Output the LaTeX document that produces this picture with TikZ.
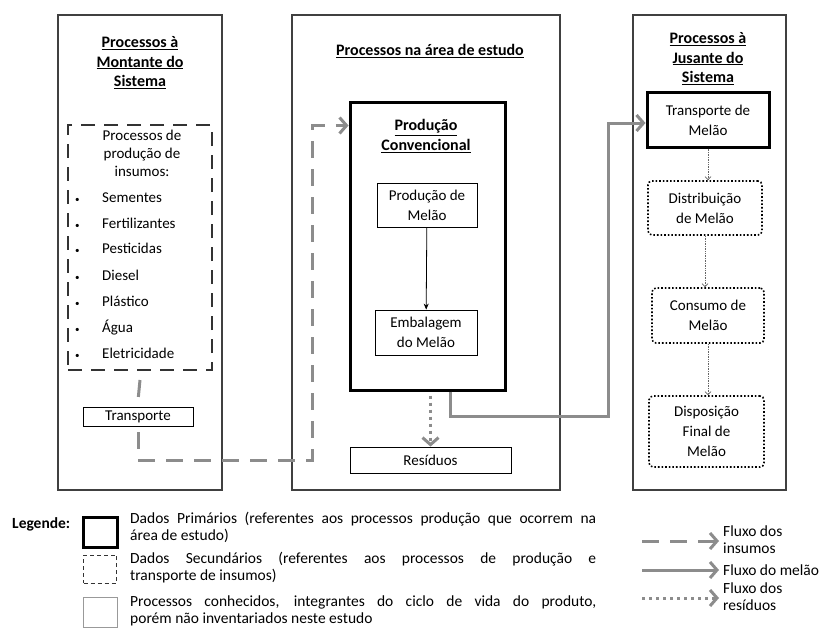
\documentclass[tikz,border=0pt]{standalone}
\usepackage{fontspec}
\setmainfont{Carlito}
\usetikzlibrary{arrows.meta,positioning}

\tikzset{
  panel/.style={draw=black!75, line width=1.2pt},
  title/.style={font=\fontsize{16}{19.5}\selectfont\bfseries, align=center},
  proc/.style={draw, line width=0.8pt, align=center, inner sep=2pt},
  primario/.style={draw, line width=3pt},
  secundario/.style={draw=black!80, line width=2pt, dash pattern=on 14pt off 9pt},
  conhecido/.style={draw, line width=1.6pt, dotted, rounded corners=4pt, align=center},
  insumo/.style={draw=black!45, line width=3pt, dash pattern=on 17pt off 11pt,
    -{Straight Barb[length=7pt,width=16pt]}},
  melao/.style={draw=black!45, line width=3pt, -{Straight Barb[length=7pt,width=16pt]}},
  residuo/.style={draw=black!45, line width=3pt, dash pattern=on 3pt off 4pt,
    -{Straight Barb[length=7pt,width=16pt]}},
  fino/.style={draw=black!60, line width=0.7pt, densely dotted, -{Straight Barb[length=3pt,width=6pt]}},
  legtexto/.style={anchor=north west, inner sep=0pt, text width=466pt, align=justify,
    font=\fontsize{15.5}{17}\selectfont},
  legfluxo/.style={anchor=west, align=left, inner sep=0pt, font=\fontsize{15.5}{17}\selectfont},
}

\begin{document}
\begin{tikzpicture}[x=1pt, y=-1pt, font=\fontsize{15}{20}\selectfont]
  \useasboundingbox (0,0) rectangle (828,634);

  % colunas
  \node[panel, minimum width=164pt, minimum height=475pt] (montante) at (140,252.5) {};
  \node[panel, minimum width=268pt, minimum height=475pt] (estudo) at (426,252.5) {};
  \node[panel, minimum width=153pt, minimum height=475pt] (jusante) at (709.5,252.5) {};

  \node[title, anchor=north] (tmont) at (140,33) {\underline{Processos à}\\\underline{Montante do}\\\underline{Sistema}};
  \node[title, anchor=north] (testudo) at (430,41) {\underline{Processos na área de estudo}};
  \node[title, anchor=north] (tjus) at (708,29) {\underline{Processos à}\\\underline{Jusante do}\\\underline{Sistema}};

  % montante
  \node[secundario, minimum width=144pt, minimum height=245pt] (insumos) at (140,247.5) {};
  \node[align=center, anchor=north, font=\fontsize{15}{18}\selectfont] (tins) at (142,127) {Processos de\\produção de\\insumos:};
  \foreach \t/\y [count=\i] in {Sementes/198, Fertilizantes/223, Pesticidas/248,
      Diesel/275, Plástico/301, Água/328, Eletricidade/353}
    \node[anchor=west, inner sep=0pt] (item\i) at (75,\y) {\makebox[27pt][l]{\scalebox{0.6}{\textbullet}}\t};
  \node[proc, minimum width=110pt, minimum height=19pt, inner sep=0pt] (transp) at (138,416.5) {Transporte};

  % area de estudo
  \node[primario, minimum width=155pt, minimum height=287pt] (conv) at (427.5,246.5) {};
  \node[title, anchor=north] (tconv) at (426,116) {\underline{Produção}\\\underline{Convencional}};
  \node[proc, minimum width=100pt, minimum height=44pt] (prod) at (427,205) {Produção de\\Melão};
  \node[proc, minimum width=102pt, minimum height=45pt] (emb) at (426,332.5) {Embalagem\\do Melão};
  \node[proc, minimum width=161pt, minimum height=26pt, inner sep=0pt] (res) at (430.5,460) {Resíduos};

  % jusante
  \node[primario, minimum width=122pt, minimum height=54pt, align=center] (tmelao) at (708,120) {Transporte de\\Melão};
  \node[conhecido, minimum width=114pt, minimum height=54pt] (dist) at (705,208) {Distribuição\\de Melão};
  \node[conhecido, minimum width=112pt, minimum height=55pt] (cons) at (708,315.5) {Consumo de\\Melão};
  \node[conhecido, minimum width=115pt, minimum height=71pt] (disp) at (706.5,431.5) {Disposição\\Final de\\Melão};

  % fluxos
  \draw[insumo, -] ([yshift=-9pt]insumos.south) -- ([yshift=6pt]transp.north);
  \coordinate (c1) at (312,460);
  \draw[insumo, shorten <=6pt] (transp.south) |- (c1) |- ([yshift=-24pt]conv.north west);
  \draw[-{Stealth[length=6pt,width=5pt]}, line width=0.8pt] (prod) -- (emb);
  \draw[residuo, shorten <=4pt] (conv.south -| res.north) -- (res.north);
  \coordinate (c2) at (608,416);
  \draw[melao] ([xshift=23pt]conv.south) |- (c2) |- ([yshift=-3pt]tmelao.west);
  \draw[fino] (tmelao) -- (tmelao |- dist.north);
  \draw[fino] (dist) -- (dist |- cons.north);
  \draw[fino] (cons) -- (cons |- disp.north);

  % legenda
  \node[font=\fontsize{15.5}{17}\selectfont\bfseries, anchor=west, inner sep=0pt] (leg) at (12,524) {Legende:};
  \node[primario, minimum width=34pt, minimum height=30pt] (lprim) at (100,532) {};
  \node[draw=black!80, line width=1pt, dash pattern=on 4pt off 3pt, minimum width=33pt, minimum height=28pt] (lsec) at (100,569) {};
  \node[draw=black!40, line width=1pt, minimum width=34pt, minimum height=30pt] (lcon) at (100,612) {};
  \node[legtexto] (tprim) at (130,512)
    {Dados Primários (referentes aos processos produção que ocorrem na\linebreak área de estudo)};
  \node[legtexto] (tsec) at (130,552)
    {Dados Secundários (referentes aos processos de produção e\linebreak transporte de insumos)};
  \node[legtexto] (tcon) at (130,596)
    {Processos conhecidos, integrantes do ciclo de vida do produto,\linebreak porém não inventariados neste estudo};

  \coordinate (a1) at (642,541);
  \coordinate (a2) at (642,570);
  \coordinate (a3) at (642,598);
  \node[legfluxo] (fins) at (723,540) {Fluxo dos\\insumos};
  \node[legfluxo] (fmel) at (723,570) {Fluxo do melão};
  \node[legfluxo] (fres) at (723,597) {Fluxo dos\\resíduos};
  \draw[insumo, shorten >=4pt] (a1) -- (a1 -| fins.west);
  \draw[melao, shorten >=4pt] (a2) -- (a2 -| fmel.west);
  \draw[residuo, shorten >=4pt] (a3) -- (a3 -| fres.west);
\end{tikzpicture}
\end{document}
